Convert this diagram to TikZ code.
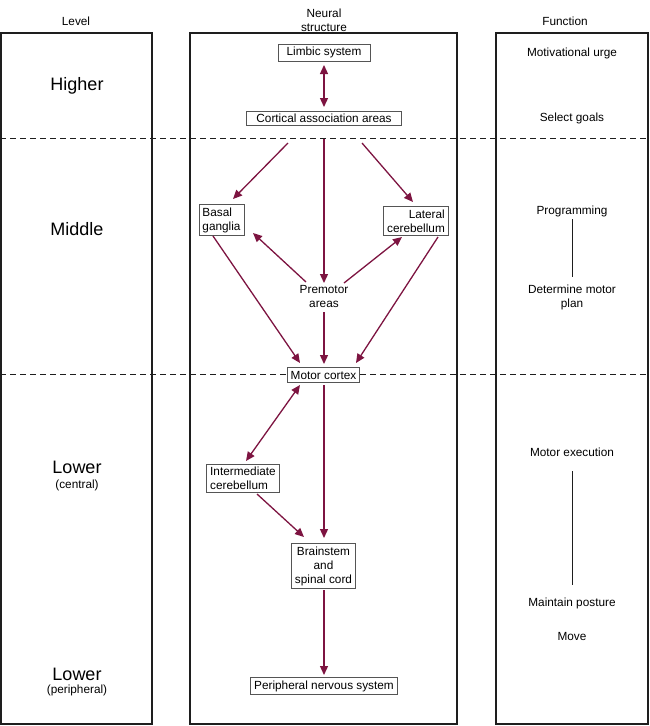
\documentclass[tikz,border=0pt]{standalone}
\usepackage{fontspec}
\setmainfont{Liberation Sans}
\usetikzlibrary{arrows.meta,calc}
\definecolor{arrowc}{RGB}{125,20,65}
\definecolor{boxc}{RGB}{85,85,85}
\definecolor{colc}{RGB}{30,30,30}
\tikzset{
  txt/.style={font=\fontsize{11.8}{14}\selectfont},
  big/.style={font=\fontsize{18}{20}\selectfont},
  nbox/.style={draw=boxc, fill=white, line width=0.9pt, inner xsep=3.5pt, inner ysep=3pt, txt},
  col/.style={draw=colc, line width=1.2pt},
  sep/.style={draw=colc, line width=1pt, dash pattern=on 6pt off 4pt},
  arr/.style={draw=arrowc, line width=1.3pt, -{Triangle[length=9pt,width=8pt]}},
  darr/.style={draw=arrowc, line width=1.3pt, {Triangle[length=9pt,width=8pt]}-{Triangle[length=9pt,width=8pt]}},
  fline/.style={draw=colc, line width=1pt}
}
\begin{document}
\begin{tikzpicture}[x=1pt,y=-1pt]
\useasboundingbox (0,0) rectangle (650,726);
% columns
\draw[col] (1,33) rectangle (152,724);
\draw[col] (190,33) rectangle (457,724);
\draw[col] (496,33) rectangle (648,724);
% separators
\draw[sep] (0,138) -- (650,138);
\draw[sep] (0,374) -- (650,374);
% headers
\node[txt] (hlevel) at (76,21) {Level};
\node[txt, align=center] (hneural) at (324,20) {Neural\\structure};
\node[txt] (hfunc) at (565,21) {Function};
% level labels
\node[big] (higher) at (77,86) {Higher};
\node[big] (middle) at (77,229) {Middle};
\node[big] (lower1) at (77,467) {Lower};
\node[txt] (central) at (77,485) {(central)};
\node[big] (lower2) at (77,674) {Lower};
\node[txt] (periph) at (77,690) {(peripheral)};
% function labels
\node[txt] (f1) at (572,53) {Motivational urge};
\node[txt] (f2) at (572,118) {Select goals};
\node[txt] (f3) at (572,211) {Programming};
\node[txt, align=center] (f4) at (572,297) {Determine motor\\plan};
\node[txt] (f5) at (572,452) {Motor execution};
\node[txt] (f6) at (572,603) {Maintain posture};
\node[txt] (f7) at (572,636) {Move};
\coordinate (l1a) at (572,219);
\coordinate (l1b) at (572,277);
\coordinate (l2a) at (572,471);
\coordinate (l2b) at (572,585);
\draw[fline] (l1a) -- (l1b);
\draw[fline] (l2a) -- (l2b);
% neural nodes
\node[nbox, minimum width=92pt] (limbic) at (324,52.5) {Limbic system};
\node[nbox, minimum width=155pt] (cortical) at (324,118.5) {Cortical association areas};
\node[nbox, align=left] (basal) at (221.5,220) {Basal\\ganglia};
\node[nbox, align=right] (lateral) at (416,221) {Lateral\\cerebellum};
\node[txt, align=center] (premotor) at (324,296) {Premotor\\areas};
\node[nbox] (motor) at (323.5,375) {Motor cortex};
\node[nbox, align=left] (inter) at (243,478.5) {Intermediate\\cerebellum};
\node[nbox, align=center] (brain) at (323.5,566) {Brainstem\\and\\spinal cord};
\node[nbox] (pns) at (324,686) {Peripheral nervous system};
% connectors
\draw[darr] ($(limbic.center)+(0,12.5)$) -- ($(cortical.center)+(0,-11.5)$);
\draw[arr] ($(cortical.center)+(-36,24.5)$) -- ($(basal.center)+(11.5,-21)$);
\draw[arr] ($(cortical.center)+(0,20.5)$) -- ($(premotor.center)+(0,-13)$);
\draw[arr] ($(cortical.center)+(38,24.5)$) -- ($(lateral.center)+(-3,-19)$);
\draw[arr] ($(premotor.center)+(-18,-14)$) -- ($(basal.center)+(31.5,13)$);
\draw[arr] ($(premotor.center)+(20,-13)$) -- ($(lateral.center)+(-14,16)$);
\draw[arr] ($(basal.center)+(-8.5,16)$) -- ($(motor.center)+(-23.5,-12)$);
\draw[arr] ($(lateral.center)+(22,16)$) -- ($(motor.center)+(32.5,-12)$);
\draw[arr] ($(premotor.center)+(0,16)$) -- ($(motor.center)+(0.5,-11)$);
\draw[darr] ($(motor.center)+(-23.5,10)$) -- ($(inter.center)+(3,-17.5)$);
\draw[arr] ($(motor.center)+(0.5,10)$) -- ($(brain.center)+(0.5,-28)$);
\draw[arr] ($(inter.center)+(14,15.5)$) -- ($(brain.center)+(-19.5,-29)$);
\draw[arr] ($(brain.center)+(0.5,24)$) -- ($(pns.center)+(0,-11)$);
\end{tikzpicture}
\end{document}
